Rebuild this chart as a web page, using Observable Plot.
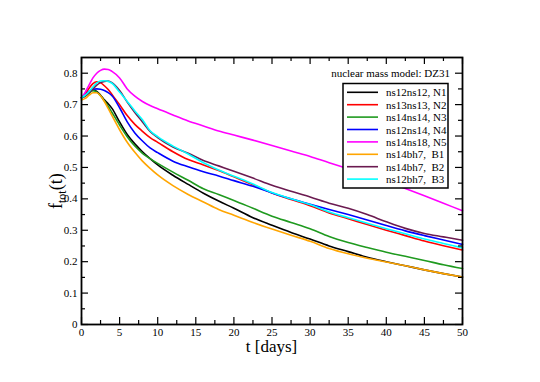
<!DOCTYPE html>
<html>
<head>
<meta charset="utf-8">
<script src="https://cdn.jsdelivr.net/npm/d3@7"></script>
<script src="https://cdn.jsdelivr.net/npm/@observablehq/plot@0.6"></script>
<style>
  html, body { margin: 0; padding: 0; background: #fff; }
  #chart svg { display: block; }
</style>
</head>
<body>
<div id="chart"></div>
<script>
// ---- data ----
const t = [0, 0.5, 1, 1.5, 2, 2.5, 3, 3.5, 4, 5, 6, 7, 8, 9, 10, 12, 14, 16, 18, 20, 22.5, 25, 27.5, 30, 32.5, 35, 37.5, 40, 42.5, 45, 47.5, 50];

const N1 = [0.722, 0.728, 0.738, 0.746, 0.742, 0.730, 0.715, 0.703, 0.688, 0.645, 0.605, 0.575, 0.550, 0.528, 0.508, 0.475, 0.446, 0.418, 0.393, 0.370, 0.340, 0.316, 0.293, 0.272, 0.250, 0.232, 0.214, 0.200, 0.187, 0.174, 0.162, 0.151];
const N2 = [0.722, 0.735, 0.752, 0.767, 0.773, 0.770, 0.760, 0.748, 0.732, 0.700, 0.665, 0.637, 0.615, 0.595, 0.580, 0.550, 0.525, 0.508, 0.490, 0.470, 0.445, 0.419, 0.398, 0.378, 0.355, 0.337, 0.318, 0.300, 0.283, 0.266, 0.251, 0.237];
const N3 = [0.722, 0.728, 0.737, 0.744, 0.740, 0.728, 0.712, 0.695, 0.675, 0.635, 0.598, 0.568, 0.545, 0.528, 0.513, 0.485, 0.459, 0.432, 0.414, 0.395, 0.370, 0.345, 0.325, 0.305, 0.280, 0.261, 0.245, 0.230, 0.217, 0.204, 0.190, 0.178];
const N4 = [0.722, 0.730, 0.742, 0.749, 0.750, 0.749, 0.745, 0.738, 0.728, 0.690, 0.645, 0.610, 0.584, 0.562, 0.547, 0.520, 0.502, 0.486, 0.473, 0.458, 0.440, 0.419, 0.400, 0.383, 0.366, 0.350, 0.333, 0.315, 0.298, 0.283, 0.269, 0.255];
const N5 = [0.722, 0.740, 0.763, 0.785, 0.800, 0.809, 0.813, 0.812, 0.806, 0.785, 0.750, 0.727, 0.710, 0.697, 0.687, 0.667, 0.648, 0.632, 0.616, 0.603, 0.587, 0.570, 0.552, 0.535, 0.515, 0.496, 0.476, 0.455, 0.433, 0.410, 0.386, 0.362];
const B1 = [0.715, 0.720, 0.730, 0.738, 0.738, 0.728, 0.710, 0.688, 0.665, 0.620, 0.580, 0.548, 0.520, 0.497, 0.476, 0.442, 0.414, 0.390, 0.366, 0.348, 0.325, 0.304, 0.284, 0.265, 0.242, 0.225, 0.211, 0.199, 0.187, 0.174, 0.162, 0.151];
const B2 = [0.722, 0.728, 0.738, 0.750, 0.762, 0.770, 0.774, 0.775, 0.770, 0.745, 0.708, 0.675, 0.645, 0.615, 0.595, 0.565, 0.545, 0.522, 0.505, 0.488, 0.466, 0.443, 0.424, 0.406, 0.386, 0.370, 0.350, 0.327, 0.306, 0.290, 0.279, 0.268];
const B3 = [0.722, 0.730, 0.742, 0.756, 0.769, 0.775, 0.776, 0.774, 0.768, 0.740, 0.710, 0.680, 0.652, 0.617, 0.598, 0.568, 0.543, 0.515, 0.492, 0.472, 0.447, 0.420, 0.400, 0.382, 0.358, 0.340, 0.322, 0.305, 0.289, 0.272, 0.258, 0.244];

const seriesNames = ["ns12ns12, N1", "ns13ns13, N2", "ns14ns14, N3", "ns12ns14, N4", "ns14ns18, N5", "ns14bh7,  B1", "ns14bh7,  B2", "ns12bh7,  B3"];
const seriesValues = [N1, N2, N3, N4, N5, B1, B2, B3];
const seriesColors = ["#000000", "#ff0000", "#1f9a1f", "#0000ff", "#ff00ff", "#ffa500", "#6b1a50", "#00ffff"];

const xMajor = [0, 5, 10, 15, 20, 25, 30, 35, 40, 45, 50];
const xMinor = [2.5, 7.5, 12.5, 17.5, 22.5, 27.5, 32.5, 37.5, 42.5, 47.5];
const yMajor = [0, 0.1, 0.2, 0.3, 0.4, 0.5, 0.6, 0.7, 0.8];
const yMinor = [0.05, 0.15, 0.25, 0.35, 0.45, 0.55, 0.65, 0.75];

const annotation = "nuclear mass model: DZ31";
const xLabel = "t [days]";

// ---- build table ----
const rows = [];
seriesValues.forEach((vals, i) => {
  vals.forEach((v, j) => rows.push({series: seriesNames[i], t: t[j], v}));
});

const W = 540, H = 382;
const mL = 81, mR = 78, mT = 57, mB = 58;
const plotW = W - mL - mR, plotH = H - mT - mB;
const font = "'Liberation Serif', 'DejaVu Serif', serif";

const lineMarks = seriesNames.map((name, i) =>
  Plot.line(rows.filter(r => r.series === name), {
    x: "t", y: "v", stroke: seriesColors[i], strokeWidth: 1.6, curve: "monotone-x"
  })
);

const chart = Plot.plot({
  width: W, height: H,
  marginLeft: mL, marginRight: mR, marginTop: mT, marginBottom: mB,
  style: {fontFamily: font, fontSize: "11px", background: "#fff", color: "#000"},
  x: {domain: [0, 50]},
  y: {domain: [0, 0.85]},
  marks: [
    ...lineMarks,
    // inward ticks on all four sides
    Plot.tickX(xMajor, {x: d => d, insetTop: plotH - 7, stroke: "#000", strokeWidth: 1.2}),
    Plot.tickX(xMinor, {x: d => d, insetTop: plotH - 4, stroke: "#000", strokeWidth: 1.2}),
    Plot.tickX(xMajor, {x: d => d, insetBottom: plotH - 7, stroke: "#000", strokeWidth: 1.2}),
    Plot.tickX(xMinor, {x: d => d, insetBottom: plotH - 4, stroke: "#000", strokeWidth: 1.2}),
    Plot.tickY(yMajor, {y: d => d, insetRight: plotW - 7, stroke: "#000", strokeWidth: 1.2}),
    Plot.tickY(yMinor, {y: d => d, insetRight: plotW - 4, stroke: "#000", strokeWidth: 1.2}),
    Plot.tickY(yMajor, {y: d => d, insetLeft: plotW - 7, stroke: "#000", strokeWidth: 1.2}),
    Plot.tickY(yMinor, {y: d => d, insetLeft: plotW - 4, stroke: "#000", strokeWidth: 1.2}),
    Plot.axisX(xMajor, {tickSize: 0, tickPadding: 4, label: null, fontSize: 11}),
    Plot.axisY(yMajor, {tickSize: 0, tickPadding: 4, label: null, fontSize: 11,
      tickFormat: d => d === 0 ? "0" : d.toFixed(1)}),
    Plot.frame({stroke: "#000", strokeWidth: 1.8})
  ]
});

document.getElementById("chart").appendChild(chart);

// ---- texts, labels and legend ----
const svg = d3.select(chart);

// annotation
svg.append("text")
  .attr("x", 450).attr("y", 77)
  .attr("text-anchor", "end")
  .attr("font-family", font).attr("font-size", 11)
  .attr("fill", "#000")
  .text(annotation);

// x label
svg.append("text")
  .attr("x", (mL + W - mR) / 2).attr("y", 352)
  .attr("text-anchor", "middle")
  .attr("font-family", font).attr("font-size", 17)
  .attr("fill", "#000")
  .text(xLabel);

// y label with subscript
const yl = svg.append("text")
  .attr("transform", `translate(62,209) rotate(-90)`)
  .attr("text-anchor", "start")
  .attr("font-family", font).attr("font-size", 18)
  .attr("fill", "#000");
yl.append("tspan").attr("text-anchor", "start").text("f");
yl.append("tspan").attr("text-anchor", "start").attr("font-size", 12).attr("dy", 4).text("tot");
yl.append("tspan").attr("text-anchor", "start").attr("dy", -4).text("(t)");

// legend
const lg = svg.append("g").attr("text-anchor", "start");
lg.append("rect")
  .attr("x", 343).attr("y", 83.5).attr("width", 105).attr("height", 104.5)
  .attr("fill", "#fff").attr("stroke", "#000").attr("stroke-width", 1.5);
seriesNames.forEach((name, i) => {
  const yy = 92.3 + i * 12.4;
  lg.append("line")
    .attr("x1", 347).attr("x2", 378).attr("y1", yy).attr("y2", yy)
    .attr("stroke", seriesColors[i]).attr("stroke-width", 1.6);
  lg.append("text")
    .attr("x", 386).attr("y", yy + 4)
    .attr("text-anchor", "start")
    .attr("font-family", font).attr("font-size", 11)
    .attr("fill", "#000")
    .attr("xml:space", "preserve")
    .style("white-space", "pre")
    .text(name);
});
</script>
</body>
</html>
